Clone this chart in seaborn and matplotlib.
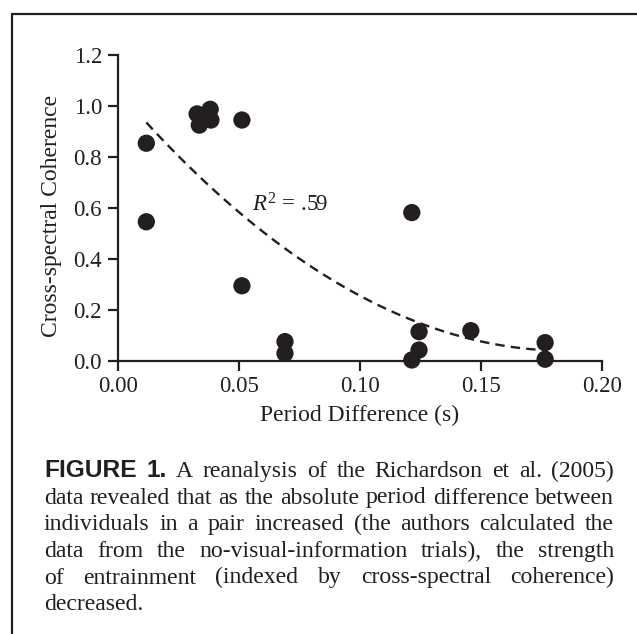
import numpy as np
import pandas as pd
import matplotlib
matplotlib.use("Agg")
import matplotlib.pyplot as plt
from matplotlib.lines import Line2D
from matplotlib.font_manager import FontProperties
import seaborn as sns

# ---- data ----
period_diff = [0.0117, 0.0117, 0.0327, 0.0336, 0.0381, 0.0384, 0.0512, 0.0512,
               0.0690, 0.0690, 0.1214, 0.1244, 0.1244, 0.1214, 0.1458, 0.1765, 0.1765]
coherence = [0.854, 0.546, 0.969, 0.925, 0.987, 0.945, 0.945, 0.295,
             0.076, 0.030, 0.582, 0.115, 0.043, 0.004, 0.119, 0.072, 0.007]
x_ticks = [0.00, 0.05, 0.10, 0.15, 0.20]
y_ticks = [0.0, 0.2, 0.4, 0.6, 0.8, 1.0, 1.2]
x_label = "Period Difference (s)"
y_label = "Cross-spectral Coherence"
caption_lines = [
    "A reanalysis of the Richardson et al. (2005)",
    "data revealed that as the absolute period difference between",
    "individuals in a pair increased (the authors calculated the",
    "data from the no-visual-information trials), the strength",
    "of entrainment (indexed by cross-spectral coherence)",
    "decreased.",
]
caption_head = "FIGURE 1."

INK = "#231f20"
df = pd.DataFrame({"x": period_diff, "y": coherence})

sns.set_theme(style="ticks")
plt.rcParams["font.family"] = ["Liberation Serif", "DejaVu Serif"]
plt.rcParams["mathtext.fontset"] = "custom"
plt.rcParams["mathtext.rm"] = "Liberation Serif"
plt.rcParams["mathtext.it"] = "Liberation Serif:italic"

W, H = 637, 634
fig = plt.figure(figsize=(W / 100, H / 100), dpi=100)
ax = fig.add_axes([118 / W, 1 - 361 / H, (602 - 118) / W, (361 - 55) / H])

sns.regplot(data=df, x="x", y="y", order=2, ci=None, scatter=False, ax=ax,
            line_kws=dict(color=INK, lw=1.7, ls=(0, (4, 2.6))))
sns.scatterplot(data=df, x="x", y="y", ax=ax, s=155, color=INK,
                edgecolor="none", clip_on=False, zorder=5)

ax.set_xlim(0, 0.20)
ax.set_ylim(0, 1.2)
ax.set_xticks(x_ticks)
ax.set_yticks(y_ticks)
ax.set_xticklabels([f"{v:.2f}" for v in x_ticks])
ax.set_yticklabels([f"{v:.1f}" for v in y_ticks])
ax.tick_params(axis="both", direction="out", length=7, width=1.6,
               labelsize=16.5, colors=INK)
ax.tick_params(axis="y", pad=4.5)
ax.tick_params(axis="x", pad=4)
ax.set_xlabel(x_label, fontsize=17, color=INK)
ax.set_ylabel(y_label, fontsize=17, color=INK)
ax.xaxis.set_label_coords(0.5, (361 - 405) / 306)
ax.yaxis.set_label_coords((62 - 118) / 484, (361 - 216) / 306)
for s in ["top", "right"]:
    ax.spines[s].set_visible(False)
for s in ["left", "bottom"]:
    ax.spines[s].set_linewidth(1.6)
    ax.spines[s].set_color(INK)

ax.text(0.0555, 0.612, r"$\mathit{R}^{2}$ = .59", fontsize=16.5, color=INK,
        ha="left", va="center")

# frame of the figure box
fig.add_artist(Line2D([11.7 / W, 11.7 / W], [0, 1 - 14.3 / H], color=INK, lw=1.6))
fig.add_artist(Line2D([11.7 / W, 1], [1 - 14.3 / H, 1 - 14.3 / H], color=INK, lw=1.6))

# justified caption
fig.canvas.draw()
renderer = fig.canvas.get_renderer()
left_px, right_px = 44, 614


def width_px(s, fp):
    w, h, d = renderer.get_text_width_height_descent(s, fp, ismath=False)
    return w


probe = FontProperties(family="Liberation Serif", size=10)
serif_size = 10 * (right_px - left_px) * 0.995 / width_px(caption_lines[1], probe)
probe_b = FontProperties(family="Liberation Sans", weight="bold", size=10)
bold_size = 10 * 120 / width_px(caption_head, probe_b)
serif = FontProperties(family="Liberation Serif", size=serif_size)
bold = FontProperties(family="Liberation Sans", weight="bold", size=bold_size)
baselines = [477, 503.5, 530, 557, 583.5, 610]

for i, line in enumerate(caption_lines):
    words = [(w, serif) for w in line.split(" ")]
    if i == 0:
        words = [(w, bold) for w in caption_head.split(" ")] + words
    ws = [width_px(w, fp) for w, fp in words]
    if i < len(caption_lines) - 1:
        gap = (right_px - left_px - sum(ws)) / (len(words) - 1)
    else:
        gap = width_px(" ", serif)
    x = left_px
    for (w, fp), wd in zip(words, ws):
        fig.text(x / W, 1 - baselines[i] / H, w, fontproperties=fp,
                 color=INK, ha="left", va="baseline")
        x += wd + gap

fig.savefig("out.png", dpi=100)
